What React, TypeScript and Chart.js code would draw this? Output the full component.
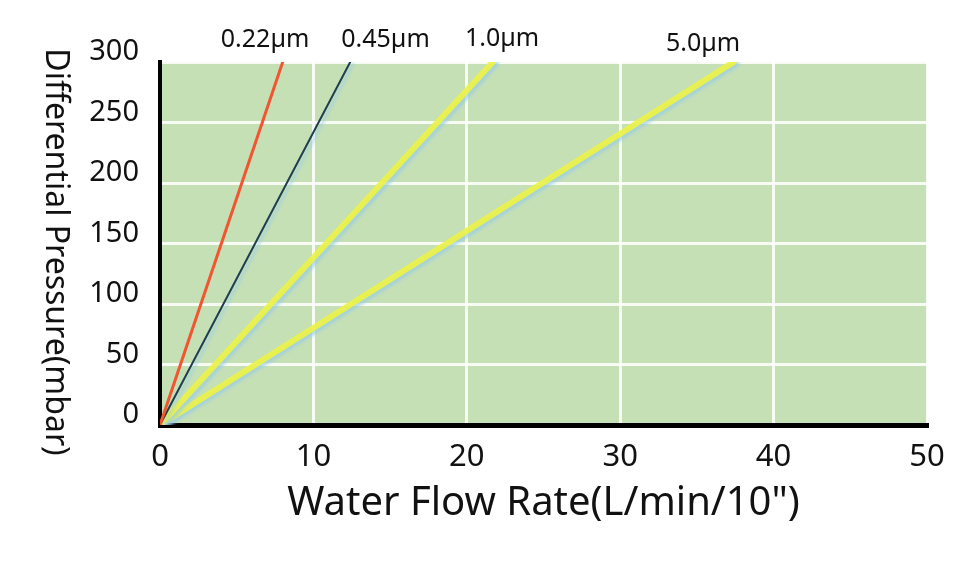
import React, { useEffect, useRef } from "react";
import { Chart, registerables } from "chart.js";

Chart.register(...registerables);

// ---- data ----
const seriesLabels = ["0.22µm", "0.45µm", "1.0µm", "5.0µm"];
const flow022 = [0, 8.0];
const flow045 = [0, 12.4];
const flow10 = [0, 21.7];
const flow50 = [0, 37.4];
const pressure = [0, 300];
const xTickValues = [0, 10, 20, 30, 40, 50];
const yTickValues = [0, 50, 100, 150, 200, 250, 300];
// label anchors (data units) for the series names above the plot
const labelFlow = [6.85, 14.7, 22.3, 35.4];
const labelPressure = [318, 318, 319, 315];

const xTitle = 'Water Flow Rate(L/min/10")';
const yTitle = "Differential Pressure(mbar)";

const seriesColors = ["#f25532", "#213e50", "rgba(236,242,72,0.92)", "rgba(236,242,72,0.92)"];
const seriesWidths = [3, 2, 6, 6];

const flows = [flow022, flow045, flow10, flow50];

const plotBg = {
  id: "plotBg",
  beforeDraw(chart: any) {
    const { ctx, chartArea: a } = chart;
    ctx.save();
    ctx.fillStyle = "#c6e0b5";
    ctx.fillRect(a.left, a.top, a.right - a.left, a.bottom - a.top);
    ctx.restore();
  },
};

const glow = {
  id: "glow",
  beforeDatasetDraw(chart: any, args: any) {
    const ctx = chart.ctx;
    ctx.save();
    if (args.index >= 1) {
      ctx.shadowColor = "rgba(150,205,235,0.75)";
      ctx.shadowOffsetX = 3;
      ctx.shadowOffsetY = 2;
      ctx.shadowBlur = 3;
    }
  },
  afterDatasetDraw(chart: any) {
    chart.ctx.restore();
  },
};

const texts = {
  id: "texts",
  afterDraw(chart: any) {
    const { ctx } = chart;
    const xs = chart.scales.x;
    const ys = chart.scales.y;
    ctx.save();
    ctx.fillStyle = "#111";
    ctx.textAlign = "center";
    ctx.textBaseline = "middle";
    ctx.font = '25px "Noto Sans"';
    seriesLabels.forEach((t, i) => {
      ctx.fillText(t, xs.getPixelForValue(labelFlow[i]), ys.getPixelForValue(labelPressure[i]));
    });
    // y title, reading top to bottom
    ctx.font = '32px "Noto Sans"';
    ctx.translate(55, 252);
    ctx.rotate(Math.PI / 2);
    ctx.fillText(yTitle, 0, 0);
    ctx.restore();
  },
};

export default function App() {
  const ref = useRef<HTMLCanvasElement>(null);
  useEffect(() => {
    if (!ref.current) return;
    const chart = new Chart(ref.current, {
      type: "scatter",
      data: {
        datasets: seriesLabels.map((lab, i) => ({
          label: lab,
          data: flows[i].map((f, j) => ({ x: f, y: pressure[j] })),
          showLine: true,
          borderColor: seriesColors[i],
          backgroundColor: seriesColors[i],
          borderWidth: seriesWidths[i],
          pointRadius: 0,
          borderCapStyle: "round",
        })),
      },
      options: {
        animation: false,
        responsive: false,
        layout: { padding: { top: 62, right: 33, left: 0, bottom: 0 } },
        plugins: { legend: { display: false }, tooltip: { enabled: false } },
        scales: {
          x: {
            type: "linear",
            min: 0,
            max: 50,
            afterBuildTicks: (s: any) => {
              s.ticks = xTickValues.map((v) => ({ value: v }));
            },
            afterFit: (s: any) => {
              s.height = 143;
            },
            ticks: {
              font: { family: '"Noto Sans"', size: 31 },
              color: "#111",
              padding: 14,
            },
            grid: { color: "rgba(255,255,255,0.85)", lineWidth: 3, drawTicks: false },
            border: { color: "#000", width: 5 },
            title: {
              display: true,
              text: xTitle,
              font: { family: '"Noto Sans"', size: 40 },
              color: "#111",
              padding: { top: 0, bottom: 40 },
            },
          },
          y: {
            type: "linear",
            min: 0,
            max: 300,
            afterBuildTicks: (s: any) => {
              s.ticks = yTickValues.map((v) => ({ value: v }));
            },
            afterFit: (s: any) => {
              s.width = 160;
            },
            ticks: {
              font: { family: '"Noto Sans"', size: 29 },
              color: "#111",
              padding: 21,
              labelOffset: -10,
            },
            grid: { color: "rgba(255,255,255,0.85)", lineWidth: 3, drawTicks: false },
            border: { color: "#000", width: 4 },
          },
        },
      },
      plugins: [plotBg, glow, texts],
    } as any);
    return () => chart.destroy();
  }, []);
  return (
    <div style={{ position: "absolute", left: 0, top: 0, width: 960, height: 568, background: "#fff" }}>
      <canvas ref={ref} width={960} height={568} style={{ display: "block" }} />
    </div>
  );
}
